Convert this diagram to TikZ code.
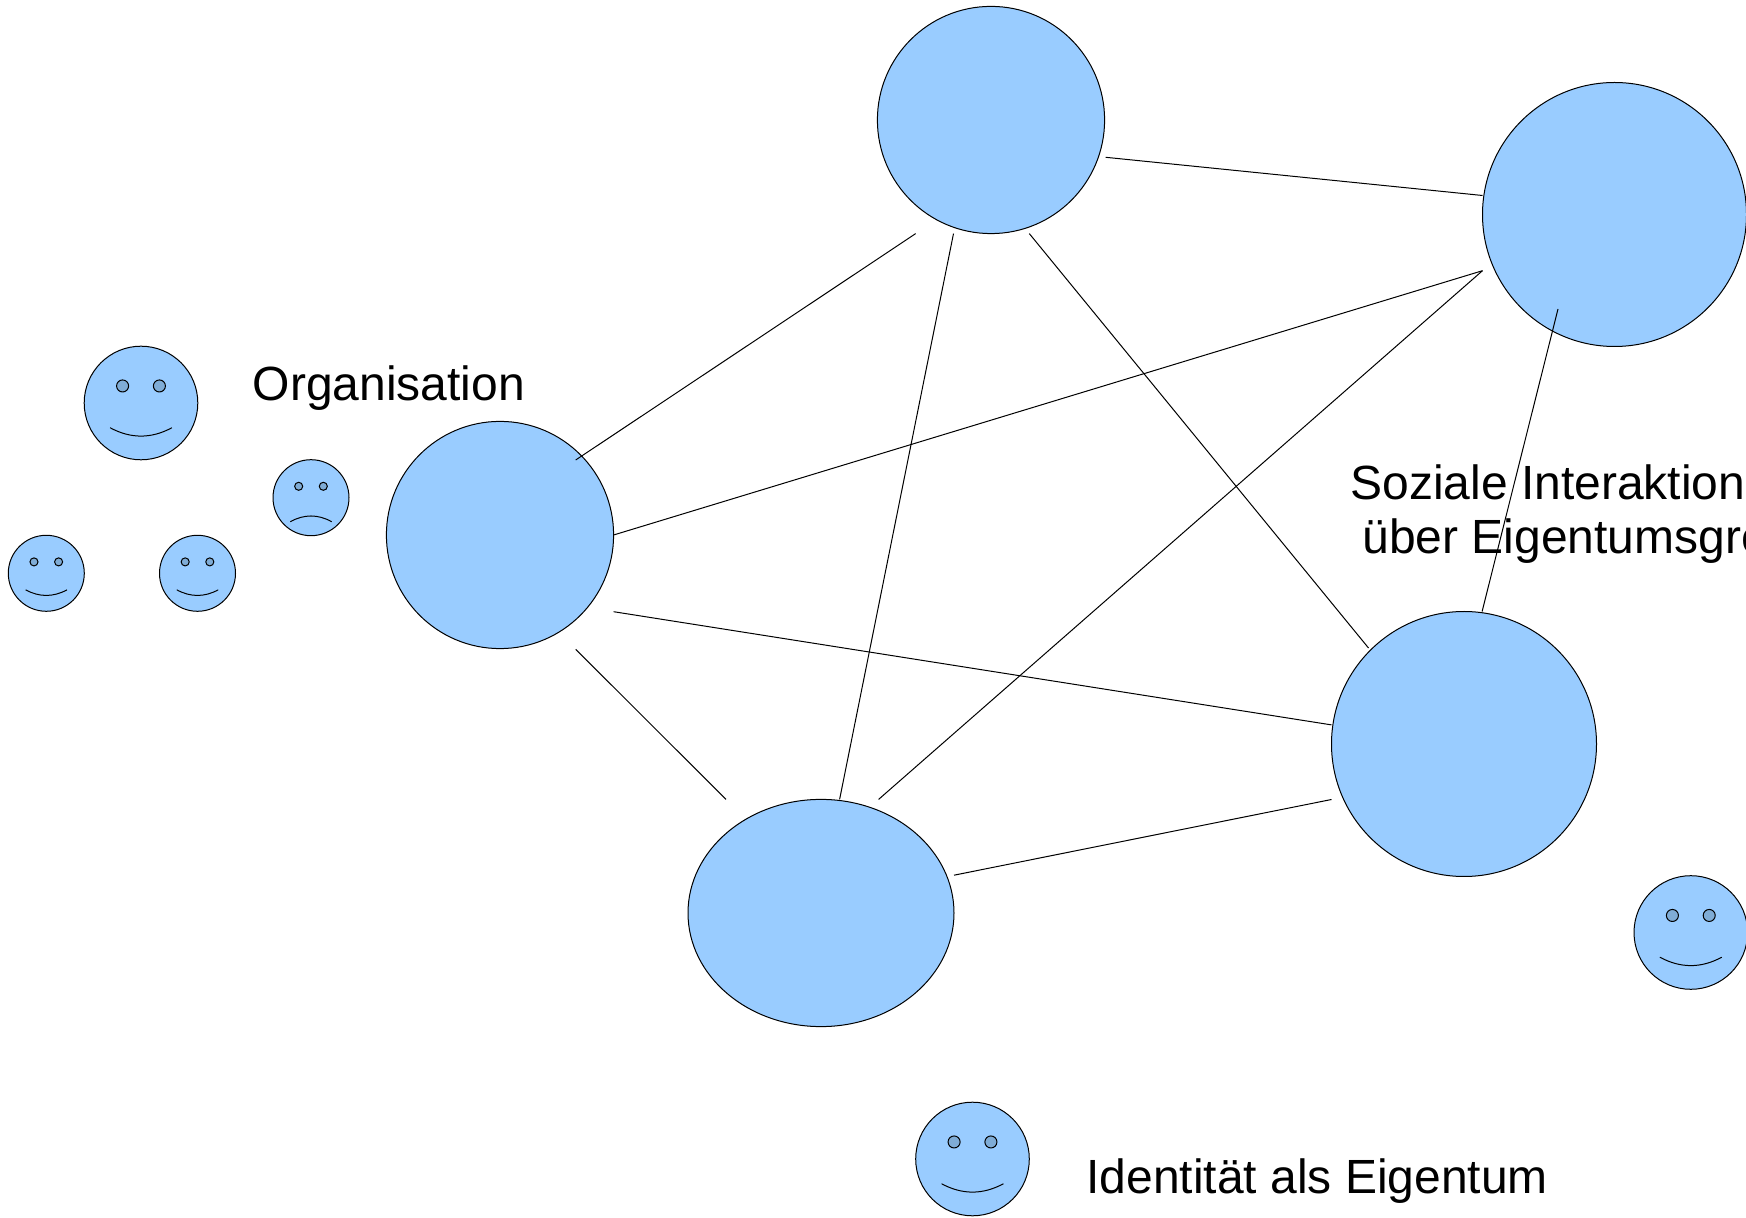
\documentclass[tikz,border=0pt]{standalone}
\usepackage{fontspec}
\setmainfont{Liberation Sans}
\usetikzlibrary{shapes.geometric,calc}
\definecolor{bluefill}{HTML}{99CCFF}
\definecolor{eyefill}{RGB}{127,172,214}
\begin{document}
\begin{tikzpicture}[x=0.5pt,y=-0.5pt,
  blob/.style={circle,draw=black,line width=0.5pt,fill=bluefill,inner sep=0pt,outer sep=0pt},
  oval/.style={ellipse,draw=black,line width=0.5pt,fill=bluefill,inner sep=0pt,outer sep=0pt},
  link/.style={draw=black,line width=0.5pt},
  txt/.style={anchor=base west,inner sep=0pt,outer sep=0pt,font=\fontsize{24}{27.6}\selectfont},
  facestyle/.style={draw=black,line width=0.5pt,fill=bluefill},
  eyestyle/.style={draw=black,line width=0.5pt,fill=eyefill},
  mouthstyle/.style={draw=black,line width=0.5pt},
  pics/smiley/.style={code={
    \path[facestyle] (0,0) circle (1);
    \path[eyestyle] (-0.324,-0.3) circle (0.106);
    \path[eyestyle] (0.324,-0.3) circle (0.106);
    \draw[mouthstyle] (-0.545,0.435) .. controls (-0.182,0.632) and (0.182,0.632) .. (0.545,0.435);
  }},
  pics/frowny/.style={code={
    \path[facestyle] (0,0) circle (1);
    \path[eyestyle] (-0.324,-0.3) circle (0.106);
    \path[eyestyle] (0.324,-0.3) circle (0.106);
    \draw[mouthstyle] (-0.545,0.632) .. controls (-0.182,0.431) and (0.182,0.431) .. (0.545,0.632);
  }}]
\useasboundingbox (0,0) rectangle (1746,1218);
\clip (0,0) rectangle (1746,1218);

% main circles
\node[blob,minimum size=113.6pt] (top) at (991,120) {};
\node[blob,minimum size=132pt] (tr) at (1614.5,214.5) {};
\node[blob,minimum size=113.6pt] (org) at (500,535) {};
\node[oval,minimum width=133pt,minimum height=113.6pt] (bot) at (821,913) {};
\node[blob,minimum size=132.5pt] (rl) at (1464,744) {};

% connector end points
\coordinate (a1) at ($(top.south)+(-75.3,0)$);
\coordinate (a2) at ($(org.center)+(75.7,-75)$);
\coordinate (b1) at ($(top.south)+(-37.5,0)$);
\coordinate (b2) at ($(bot.north)+(18.6,0)$);
\coordinate (c1) at ($(top.south)+(38.3,0)$);
\coordinate (c2) at ($(rl.center)+(-95.5,-96)$);
\coordinate (d1) at ($(top.east)+(1,37.3)$);
\coordinate (d2) at ($(tr.west)+(0,-19)$);
\coordinate (e1) at (org.east);
\coordinate (e2) at ($(tr.west)+(0,56.2)$);
\coordinate (f1) at ($(org.east)+(0,76.7)$);
\coordinate (f2) at ($(rl.west)+(0,-19.1)$);
\coordinate (g1) at ($(org.center)+(75.7,114.3)$);
\coordinate (g2) at ($(bot.north)+(-95,0)$);
\coordinate (h1) at ($(bot.north)+(57.6,0)$);
\coordinate (i1) at ($(bot.east)+(0,-37.8)$);
\coordinate (i2) at ($(rl.west)+(0,55.5)$);
\coordinate (j1) at ($(rl.north)+(18.1,0)$);
\coordinate (j2) at ($(tr.center)+(-56.5,94.5)$);

% connectors
\draw[link] (a1) -- (a2);
\draw[link] (b1) -- (b2);
\draw[link] (c1) -- (c2);
\draw[link] (d1) -- (d2);
\draw[link] (e1) -- (e2);
\draw[link] (f1) -- (f2);
\draw[link] (g1) -- (g2);
\draw[link] (h1) -- (e2);
\draw[link] (i1) -- (i2);
\draw[link] (j1) -- (j2);

% smileys
\pic[scale=56.8] at (141,403) {smiley};
\pic[scale=38] at (311,497.7) {frowny};
\pic[scale=38] at (46.3,573.3) {smiley};
\pic[scale=38] at (197.5,573.3) {smiley};
\pic[scale=56.8] at (1690.8,932.5) {smiley};
\pic[scale=56.8] at (972.5,1159) {smiley};

% texts
\node[txt] (torg) at (252.7,401) {Organisation};
\node[txt] (tsoz1) at (1350.5,500) {Soziale Interaktion};
\node[txt] (tsoz2) at (1362.5,554) {über Eigentumsgre};
\node[txt] (tid) at (1086.3,1193.5) {Identität als Eigentum};
\end{tikzpicture}
\end{document}
